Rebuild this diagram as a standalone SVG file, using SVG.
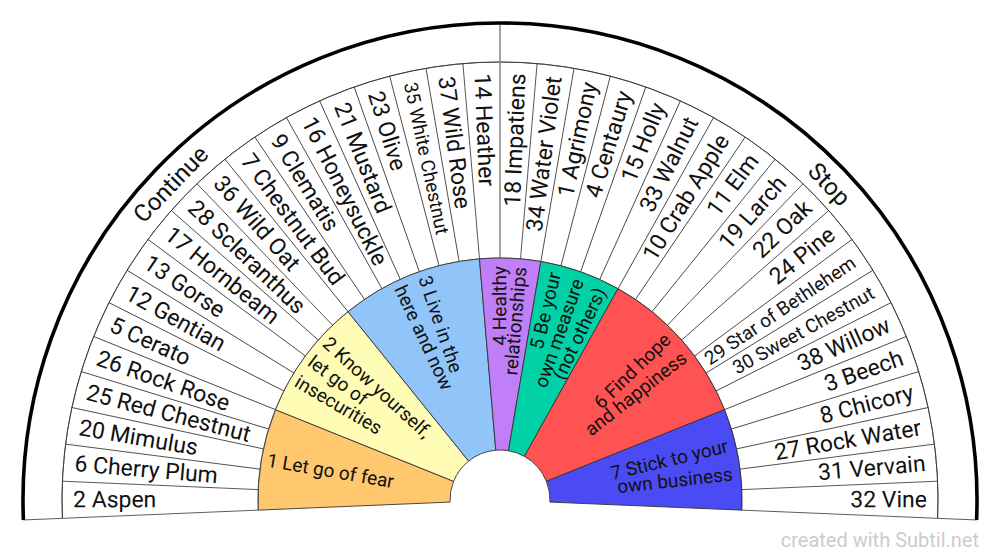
<svg xmlns="http://www.w3.org/2000/svg" width="1000" height="560" viewBox="0 0 1000 560">
<style>
text { font-family: Roboto, "Liberation Sans", sans-serif; fill: #111; }
.f { font-size: 23px; dominant-baseline: central; }
.fs { font-size: 19px; dominant-baseline: central; }
.r { text-anchor: end; }
.in { font-size: 19px; dominant-baseline: central; }
.hd { font-size: 24px; dominant-baseline: central; text-anchor: middle; }
.ln { stroke: #333; stroke-width: 0.8; fill: none; }
.sec { stroke: #333; stroke-width: 0.9; }
.wm { font-size: 20px; fill: #cccccc; text-anchor: end; }
</style>
<rect width="1000" height="560" fill="#ffffff"/>
<g id="rings">
  <path d="M23.418,519.975 A477,477 0 1 1 976.582,519.975 L937.616,518.342 A438,438 0 1 0 62.384,518.342 Z" fill="#fff" class="ln"/>
  <path d="M62.384,518.342 A438,438 0 1 1 937.616,518.342 L741.788,510.134 A242,242 0 1 0 258.212,510.134 Z" fill="#fff" class="ln"/>
</g>
<g id="connectors">
  <g class="ln">
    <line x1="62" y1="500" x2="258" y2="500" transform="rotate(2.46 500 500)"/>
    <line x1="62" y1="500" x2="258" y2="500" transform="rotate(7.33 500 500)"/>
    <line x1="62" y1="500" x2="258" y2="500" transform="rotate(12.19 500 500)"/>
    <line x1="62" y1="500" x2="258" y2="500" transform="rotate(17.05 500 500)"/>
    <line x1="62" y1="500" x2="258" y2="500" transform="rotate(21.92 500 500)"/>
    <line x1="62" y1="500" x2="258" y2="500" transform="rotate(26.78 500 500)"/>
    <line x1="62" y1="500" x2="258" y2="500" transform="rotate(31.64 500 500)"/>
    <line x1="62" y1="500" x2="258" y2="500" transform="rotate(36.51 500 500)"/>
    <line x1="62" y1="500" x2="258" y2="500" transform="rotate(41.37 500 500)"/>
    <line x1="62" y1="500" x2="258" y2="500" transform="rotate(46.23 500 500)"/>
    <line x1="62" y1="500" x2="258" y2="500" transform="rotate(51.09 500 500)"/>
    <line x1="62" y1="500" x2="258" y2="500" transform="rotate(55.96 500 500)"/>
    <line x1="62" y1="500" x2="258" y2="500" transform="rotate(60.82 500 500)"/>
    <line x1="62" y1="500" x2="258" y2="500" transform="rotate(65.68 500 500)"/>
    <line x1="62" y1="500" x2="258" y2="500" transform="rotate(70.55 500 500)"/>
    <line x1="62" y1="500" x2="258" y2="500" transform="rotate(75.41 500 500)"/>
    <line x1="62" y1="500" x2="258" y2="500" transform="rotate(80.27 500 500)"/>
    <line x1="62" y1="500" x2="258" y2="500" transform="rotate(85.14 500 500)"/>
    <line x1="62" y1="500" x2="258" y2="500" transform="rotate(94.86 500 500)"/>
    <line x1="62" y1="500" x2="258" y2="500" transform="rotate(99.73 500 500)"/>
    <line x1="62" y1="500" x2="258" y2="500" transform="rotate(104.59 500 500)"/>
    <line x1="62" y1="500" x2="258" y2="500" transform="rotate(109.45 500 500)"/>
    <line x1="62" y1="500" x2="258" y2="500" transform="rotate(114.32 500 500)"/>
    <line x1="62" y1="500" x2="258" y2="500" transform="rotate(119.18 500 500)"/>
    <line x1="62" y1="500" x2="258" y2="500" transform="rotate(124.04 500 500)"/>
    <line x1="62" y1="500" x2="258" y2="500" transform="rotate(128.91 500 500)"/>
    <line x1="62" y1="500" x2="258" y2="500" transform="rotate(133.77 500 500)"/>
    <line x1="62" y1="500" x2="258" y2="500" transform="rotate(138.63 500 500)"/>
    <line x1="62" y1="500" x2="258" y2="500" transform="rotate(143.49 500 500)"/>
    <line x1="62" y1="500" x2="258" y2="500" transform="rotate(148.36 500 500)"/>
    <line x1="62" y1="500" x2="258" y2="500" transform="rotate(153.22 500 500)"/>
    <line x1="62" y1="500" x2="258" y2="500" transform="rotate(158.08 500 500)"/>
    <line x1="62" y1="500" x2="258" y2="500" transform="rotate(162.95 500 500)"/>
    <line x1="62" y1="500" x2="258" y2="500" transform="rotate(167.81 500 500)"/>
    <line x1="62" y1="500" x2="258" y2="500" transform="rotate(172.67 500 500)"/>
    <line x1="62" y1="500" x2="258" y2="500" transform="rotate(177.54 500 500)"/>
  </g>
  <line x1="500" y1="23" x2="500" y2="258" stroke="#8a8a8a" stroke-width="1.6"/>
  <path d="M23.418,519.975 A477,477 0 1 1 976.582,519.975" fill="none" stroke="#000" stroke-width="3.6"/>
</g>
<g id="sector-1">
  <path class="sec" fill="#FFC76E" d="M258.212,510.134 A242,242 0 0 1 275.489,409.673 L453.613,481.338 A50,50 0 0 0 450.044,502.094 Z"/>
  <text class="in" x="264" y="500" transform="rotate(9.76 500 500)">1 Let go of fear</text>
</g>
<g id="sector-2">
  <path class="sec" fill="#FFFCB5" d="M275.489,409.673 A242,242 0 0 1 348.014,311.678 L468.598,461.090 A50,50 0 0 0 453.613,481.338 Z"/>
  <text class="in" x="264" y="500" transform="rotate(42.5 500 500)">2 Know yourself,</text>
  <text class="in" x="264" y="500" transform="rotate(36.5 500 500)">let go of</text>
  <text class="in" x="264" y="500" transform="rotate(30.5 500 500)">insecurities</text>
</g>
<g id="sector-3">
  <path class="sec" fill="#91C5FA" d="M348.014,311.678 A242,242 0 0 1 479.484,258.870 L495.761,450.180 A50,50 0 0 0 468.598,461.090 Z"/>
  <text class="in" x="264" y="500" transform="rotate(71.3 500 500)">3 Live in the</text>
  <text class="in" x="264" y="500" transform="rotate(64.9 500 500)">here and now</text>
</g>
<g id="sector-4">
  <path class="sec" fill="#C07EF7" d="M479.484,258.870 A242,242 0 0 1 540.884,261.479 L508.447,450.719 A50,50 0 0 0 495.761,450.180 Z"/>
  <text class="in r" x="734" y="500" transform="rotate(-90.1 500 500)">4 Healthy</text>
  <text class="in r" x="734" y="500" transform="rotate(-85.1 500 500)">relationships</text>
</g>
<g id="sector-5">
  <path class="sec" fill="#00D1A6" d="M540.884,261.479 A242,242 0 0 1 617.984,288.709 L524.377,456.345 A50,50 0 0 0 508.447,450.719 Z"/>
  <text class="in r" x="734" y="500" transform="rotate(-76.5 500 500)">5 Be your</text>
  <text class="in r" x="734" y="500" transform="rotate(-70.5 500 500)">own measure</text>
  <text class="in r" x="734" y="500" transform="rotate(-64.5 500 500)">(not others)</text>
</g>
<g id="sector-6">
  <path class="sec" fill="#FF5252" d="M617.984,288.709 A242,242 0 0 1 724.511,409.673 L546.387,481.338 A50,50 0 0 0 524.377,456.345 Z"/>
  <text class="in r" x="734" y="500" transform="rotate(-44.3 500 500)">6 Find hope</text>
  <text class="in r" x="734" y="500" transform="rotate(-38.1 500 500)">and happiness</text>
</g>
<g id="sector-7">
  <path class="sec" fill="#4B4BF6" d="M724.511,409.673 A242,242 0 0 1 741.788,510.134 L549.956,502.094 A50,50 0 0 0 546.387,481.338 Z"/>
  <text class="in r" x="734" y="500" transform="rotate(-13.4 500 500)">7 Stick to your</text>
  <text class="in r" x="734" y="500" transform="rotate(-6.4 500 500)">own business</text>
</g>
<g id="continue"><text class="hd" x="500" y="44" transform="rotate(-46.2 500 500)">Continue</text></g>
<g id="stop"><text class="hd" x="500" y="44" transform="rotate(46.2 500 500)">Stop</text></g>
<g id="flowers-continue">
  <g id="f-aspen"><text class="f" x="73" y="500" transform="rotate(0.03 500 500)">2 Aspen</text></g>
  <g id="f-cherry-plum"><text class="f" x="73" y="500" transform="rotate(4.89 500 500)">6 Cherry Plum</text></g>
  <g id="f-mimulus"><text class="f" x="73" y="500" transform="rotate(9.76 500 500)">20 Mimulus</text></g>
  <g id="f-red-chestnut"><text class="f" x="73" y="500" transform="rotate(14.62 500 500)">25 Red Chestnut</text></g>
  <g id="f-rock-rose"><text class="f" x="73" y="500" transform="rotate(19.48 500 500)">26 Rock Rose</text></g>
  <g id="f-cerato"><text class="f" x="73" y="500" transform="rotate(24.35 500 500)">5 Cerato</text></g>
  <g id="f-gentian"><text class="f" x="73" y="500" transform="rotate(29.21 500 500)">12 Gentian</text></g>
  <g id="f-gorse"><text class="f" x="73" y="500" transform="rotate(34.07 500 500)">13 Gorse</text></g>
  <g id="f-hornbeam"><text class="f" x="73" y="500" transform="rotate(38.94 500 500)">17 Hornbeam</text></g>
  <g id="f-scleranthus"><text class="f" x="73" y="500" transform="rotate(43.80 500 500)">28 Scleranthus</text></g>
  <g id="f-wild-oat"><text class="f" x="73" y="500" transform="rotate(48.66 500 500)">36 Wild Oat</text></g>
  <g id="f-chestnut-bud"><text class="f" x="73" y="500" transform="rotate(53.52 500 500)">7 Chestnut Bud</text></g>
  <g id="f-clematis"><text class="f" x="73" y="500" transform="rotate(58.39 500 500)">9 Clematis</text></g>
  <g id="f-honeysuckle"><text class="f" x="73" y="500" transform="rotate(63.25 500 500)">16 Honeysuckle</text></g>
  <g id="f-mustard"><text class="f" x="73" y="500" transform="rotate(68.11 500 500)">21 Mustard</text></g>
  <g id="f-olive"><text class="f" x="73" y="500" transform="rotate(72.98 500 500)">23 Olive</text></g>
  <g id="f-white-chestnut"><text class="fs" x="73" y="500" transform="rotate(77.84 500 500)">35 White Chestnut</text></g>
  <g id="f-wild-rose"><text class="f" x="73" y="500" transform="rotate(82.70 500 500)">37 Wild Rose</text></g>
  <g id="f-heather"><text class="f" x="73" y="500" transform="rotate(87.57 500 500)">14 Heather</text></g>
</g>
<g id="flowers-stop">
  <g id="f-impatiens"><text class="f r" x="927" y="500" transform="rotate(-87.57 500 500)">18 Impatiens</text></g>
  <g id="f-water-violet"><text class="f r" x="927" y="500" transform="rotate(-82.71 500 500)">34 Water Violet</text></g>
  <g id="f-agrimony"><text class="f r" x="927" y="500" transform="rotate(-77.84 500 500)">1 Agrimony</text></g>
  <g id="f-centaury"><text class="f r" x="927" y="500" transform="rotate(-72.98 500 500)">4 Centaury</text></g>
  <g id="f-holly"><text class="f r" x="927" y="500" transform="rotate(-68.12 500 500)">15 Holly</text></g>
  <g id="f-walnut"><text class="f r" x="927" y="500" transform="rotate(-63.25 500 500)">33 Walnut</text></g>
  <g id="f-crab-apple"><text class="f r" x="927" y="500" transform="rotate(-58.39 500 500)">10 Crab Apple</text></g>
  <g id="f-elm"><text class="f r" x="927" y="500" transform="rotate(-53.53 500 500)">11 Elm</text></g>
  <g id="f-larch"><text class="f r" x="927" y="500" transform="rotate(-48.67 500 500)">19 Larch</text></g>
  <g id="f-oak"><text class="f r" x="927" y="500" transform="rotate(-43.80 500 500)">22 Oak</text></g>
  <g id="f-pine"><text class="f r" x="927" y="500" transform="rotate(-38.94 500 500)">24 Pine</text></g>
  <g id="f-star-of-bethlehem"><text class="fs r" x="927" y="500" transform="rotate(-34.08 500 500)">29 Star of Bethlehem</text></g>
  <g id="f-sweet-chestnut"><text class="fs r" x="927" y="500" transform="rotate(-29.21 500 500)">30 Sweet Chestnut</text></g>
  <g id="f-willow"><text class="f r" x="927" y="500" transform="rotate(-24.35 500 500)">38 Willow</text></g>
  <g id="f-beech"><text class="f r" x="927" y="500" transform="rotate(-19.49 500 500)">3 Beech</text></g>
  <g id="f-chicory"><text class="f r" x="927" y="500" transform="rotate(-14.62 500 500)">8 Chicory</text></g>
  <g id="f-rock-water"><text class="f r" x="927" y="500" transform="rotate(-9.76 500 500)">27 Rock Water</text></g>
  <g id="f-vervain"><text class="f r" x="927" y="500" transform="rotate(-4.90 500 500)">31 Vervain</text></g>
  <g id="f-vine"><text class="f r" x="927" y="500" transform="rotate(-0.03 500 500)">32 Vine</text></g>
</g>
<text class="wm" x="979" y="547">created with Subtil.net</text>
</svg>
